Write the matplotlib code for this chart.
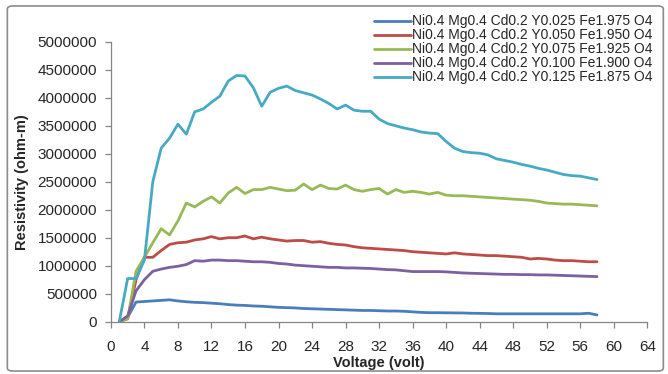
import matplotlib
matplotlib.use("Agg")
import matplotlib.pyplot as plt
from matplotlib.patches import FancyBboxPatch
from matplotlib.ticker import MultipleLocator, FuncFormatter

plt.rcParams['font.family'] = ['Liberation Sans', 'DejaVu Sans']

# Applied voltage (volt), one reading per volt
voltage = list(range(1, 59))

# Resistivity (ohm-m) for each composition
res_y025 = [0, 80000, 350000, 360000, 370000, 380000, 390000, 370000, 355000, 345000,
            340000, 330000, 320000, 305000, 295000, 290000, 280000, 275000, 265000, 255000,
            250000, 245000, 235000, 230000, 225000, 220000, 215000, 210000, 205000, 200000,
            200000, 195000, 190000, 190000, 185000, 175000, 165000, 160000, 160000, 158000,
            156000, 155000, 150000, 148000, 145000, 140000, 140000, 140000, 140000, 140000,
            140000, 140000, 140000, 140000, 140000, 140000, 150000, 120000]

res_y050 = [0, 50000, 750000, 1150000, 1150000, 1270000, 1380000, 1410000, 1420000, 1460000,
            1480000, 1520000, 1480000, 1500000, 1500000, 1530000, 1480000, 1510000, 1480000, 1460000,
            1440000, 1450000, 1450000, 1420000, 1430000, 1400000, 1380000, 1370000, 1340000, 1320000,
            1310000, 1300000, 1290000, 1280000, 1270000, 1250000, 1240000, 1230000, 1220000, 1210000,
            1230000, 1210000, 1200000, 1190000, 1180000, 1180000, 1170000, 1160000, 1150000, 1120000,
            1130000, 1120000, 1100000, 1090000, 1090000, 1080000, 1070000, 1070000]

res_y075 = [0, 50000, 900000, 1150000, 1410000, 1660000, 1550000, 1800000, 2120000, 2050000,
            2150000, 2230000, 2120000, 2300000, 2400000, 2290000, 2360000, 2360000, 2400000, 2370000,
            2340000, 2350000, 2460000, 2360000, 2440000, 2380000, 2370000, 2440000, 2360000, 2330000,
            2360000, 2380000, 2280000, 2360000, 2310000, 2330000, 2310000, 2280000, 2310000, 2260000,
            2250000, 2250000, 2240000, 2230000, 2220000, 2210000, 2200000, 2190000, 2180000, 2170000,
            2150000, 2120000, 2110000, 2100000, 2100000, 2090000, 2080000, 2070000]

res_y100 = [0, 100000, 550000, 750000, 900000, 940000, 970000, 990000, 1020000, 1090000,
            1080000, 1100000, 1100000, 1090000, 1090000, 1080000, 1070000, 1070000, 1060000, 1040000,
            1030000, 1010000, 1000000, 990000, 980000, 970000, 970000, 960000, 960000, 955000,
            950000, 940000, 930000, 925000, 910000, 895000, 895000, 895000, 895000, 890000,
            880000, 870000, 865000, 860000, 855000, 850000, 845000, 845000, 840000, 840000,
            835000, 835000, 830000, 825000, 820000, 815000, 810000, 805000]

res_y125 = [0, 770000, 770000, 1100000, 2500000, 3100000, 3280000, 3530000, 3350000, 3750000,
            3800000, 3920000, 4030000, 4300000, 4400000, 4390000, 4180000, 3850000, 4100000, 4170000,
            4210000, 4130000, 4090000, 4050000, 3980000, 3900000, 3800000, 3870000, 3780000, 3760000,
            3760000, 3620000, 3540000, 3500000, 3460000, 3430000, 3390000, 3370000, 3360000, 3220000,
            3100000, 3040000, 3020000, 3010000, 2980000, 2910000, 2880000, 2850000, 2810000, 2780000,
            2740000, 2710000, 2670000, 2630000, 2610000, 2600000, 2570000, 2540000]

series_labels = [
    "Ni0.4 Mg0.4 Cd0.2 Y0.025 Fe1.975 O4",
    "Ni0.4 Mg0.4 Cd0.2 Y0.050 Fe1.950 O4",
    "Ni0.4 Mg0.4 Cd0.2 Y0.075 Fe1.925 O4",
    "Ni0.4 Mg0.4 Cd0.2 Y0.100 Fe1.900 O4",
    "Ni0.4 Mg0.4 Cd0.2 Y0.125 Fe1.875 O4",
]
series_values = [res_y025, res_y050, res_y075, res_y100, res_y125]
series_colors = ["#4a7ebb", "#be4b48", "#98b954", "#7d60a0", "#46aac5"]

fig = plt.figure(figsize=(6.68, 3.74), dpi=100)
fig.patch.set_facecolor("white")

# outer chart frame
frame = FancyBboxPatch((0.011, 0.008), 0.982, 0.976,
                       boxstyle="round,pad=0,rounding_size=0.008",
                       transform=fig.transFigure, fill=False,
                       edgecolor="#8c8c8c", linewidth=1.2)
fig.patches.append(frame)

ax = fig.add_axes([0.166, 0.140, 0.803, 0.748])

for vals, color, label in zip(series_values, series_colors, series_labels):
    ax.plot(voltage, vals, color=color, linewidth=2.0, label=label,
            solid_joinstyle="round", solid_capstyle="round")

ax.set_xlim(0, 64)
ax.set_ylim(0, 5000000)
ax.xaxis.set_major_locator(MultipleLocator(4))
ax.yaxis.set_major_locator(MultipleLocator(500000))
ax.yaxis.set_major_formatter(FuncFormatter(lambda v, p: f"{int(round(v))}"))

for side in ("top", "right"):
    ax.spines[side].set_visible(False)
for side in ("left", "bottom"):
    ax.spines[side].set_color("#868686")
    ax.spines[side].set_linewidth(0.9)

ax.tick_params(axis="both", direction="out", length=4, width=0.9,
               color="#868686", labelsize=11, labelcolor="#262626", pad=6)
ax.tick_params(axis="x", pad=9)

ax.set_xlabel("Voltage (volt)", fontsize=10.5, fontweight="bold",
              color="#262626", labelpad=2)
ax.set_ylabel("Resistivity (ohm-m)", fontsize=10.5, fontweight="bold",
              color="#262626", labelpad=6)

leg = ax.legend(loc="upper right", bbox_to_anchor=(1.02, 1.118), frameon=False,
                fontsize=10, handlelength=2.6, handletextpad=0.1,
                labelspacing=0.0, borderaxespad=0)
for txt in leg.get_texts():
    txt.set_color("#262626")

fig.savefig("out.png", dpi=100)
